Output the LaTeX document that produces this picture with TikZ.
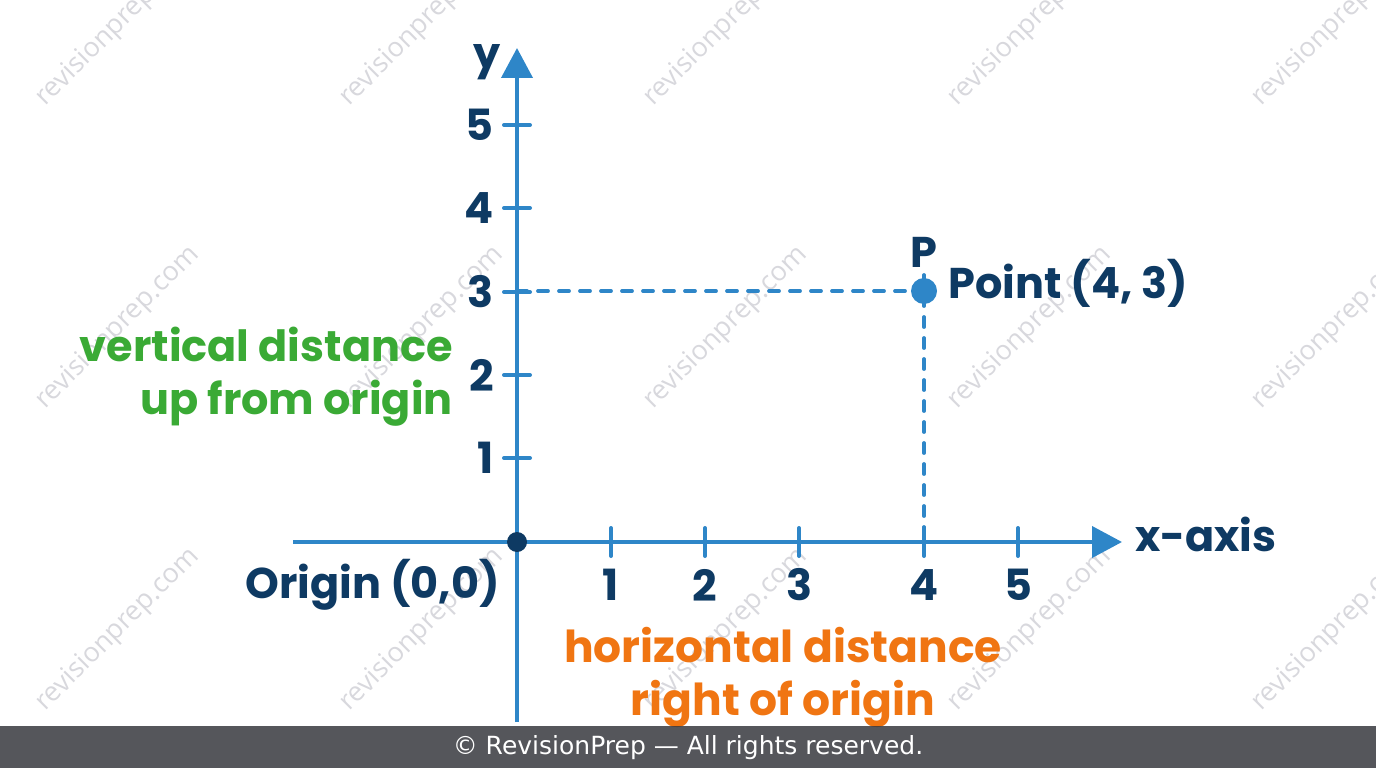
\documentclass[tikz,border=0pt]{standalone}
\usepackage{fontspec}
\setmainfont{Poppins}
\newfontfamily\markfont{Open Sans}
\newfontfamily\footfont{DejaVu Sans}
\usetikzlibrary{arrows.meta}
\definecolor{axisblue}{HTML}{2E86C8}
\definecolor{navy}{HTML}{0E3A63}
\definecolor{distgreen}{HTML}{3AAA35}
\definecolor{distorange}{HTML}{F07512}
\definecolor{footgray}{HTML}{37383E}
\definecolor{markgray}{HTML}{D8D8DD}

\begin{document}
\begin{tikzpicture}[x=1pt,y=-1pt,
  axis/.style={axisblue,line width=4pt,-{Triangle[length=30pt,width=31pt]}},
  tick/.style={axisblue,line width=4pt,line cap=round},
  guide/.style={axisblue,line width=3.8pt,dash pattern=on 10pt off 11pt,line cap=round},
  num/.style={navy,inner sep=0pt,font=\fontsize{43}{43}\selectfont\bfseries},
  lbl/.style={navy,inner sep=0pt,font=\fontsize{43}{43}\selectfont\bfseries},
  dist/.style={inner sep=0pt,font=\fontsize{44}{44}\selectfont\bfseries},
  wmark/.style={markgray,rotate=45,font=\fontsize{27}{27}\selectfont\markfont}]
\useasboundingbox (0,0) rectangle (1376,768);

% watermark
\foreach \cx in {118,422,726,1030,1334}
  \foreach \cy in {25,328,630}
    \node[wmark] at (\cx,\cy) {revisionprep.com};

% axes
\coordinate (O) at (517,542);
\coordinate (xleft) at (293,542);
\coordinate (xright) at (1122,542);
\coordinate (ybottom) at (517,722);
\coordinate (ytop) at (517,48);
\draw[axis] (xleft) -- (xright);
\draw[axis] (ybottom) -- (ytop);

% ticks and numbers
\foreach \n/\px in {1/611,2/705,3/799,4/924,5/1018} {
  \draw[tick] (\px,528) -- (\px,556);
  \node[num] (x\n) at (\px,585) {\n};
}
\foreach \n/\py in {1/458,2/375,3/292,4/208,5/125} {
  \draw[tick] (504,\py) -- (530,\py);
  \node[num,anchor=east] (y\n) at (494,\py) {\n};
}

% point P
\coordinate (P) at (924,291);
\coordinate (Px) at (924,528);
\coordinate (Py) at (517,291);
\draw[guide] (Py) -- ([xshift=-15pt]P);
\draw[guide] ([yshift=16pt]P) -- (Px);
\fill[axisblue] (P) circle (13pt);
\fill[navy] (O) circle (10pt);

% labels
\node[lbl,anchor=base] (ylabel) at (487,68) {y};
\node[lbl,anchor=base west] (xlabel) at (1135,551) {x-axis};
\node[lbl,anchor=base] (Plabel) at (924,267) {P};
\node[lbl,anchor=base west] (Ptext) at (948,298) {Point (4, 3)};
\node[lbl,anchor=base east] (Otext) at (500,598) {Origin (0,0)};
\node[dist,distgreen,anchor=base east,font=\fontsize{43}{43}\selectfont\bfseries] (vdist1) at (453,361) {vertical distance};
\node[dist,distgreen,anchor=base east,font=\fontsize{43}{43}\selectfont\bfseries] (vdist2) at (453,414) {up from origin};
\node[dist,distorange,anchor=base] (hdist1) at (783,662) {horizontal distance};
\node[dist,distorange,anchor=base] (hdist2) at (783,715) {right of origin};

% footer
\fill[footgray,opacity=0.85] (0,726) rectangle (1376,768);
\node[white,font=\fontsize{25}{25}\selectfont\footfont] (foot) at (688,748) {© RevisionPrep — All rights reserved.};
\end{tikzpicture}
\end{document}
